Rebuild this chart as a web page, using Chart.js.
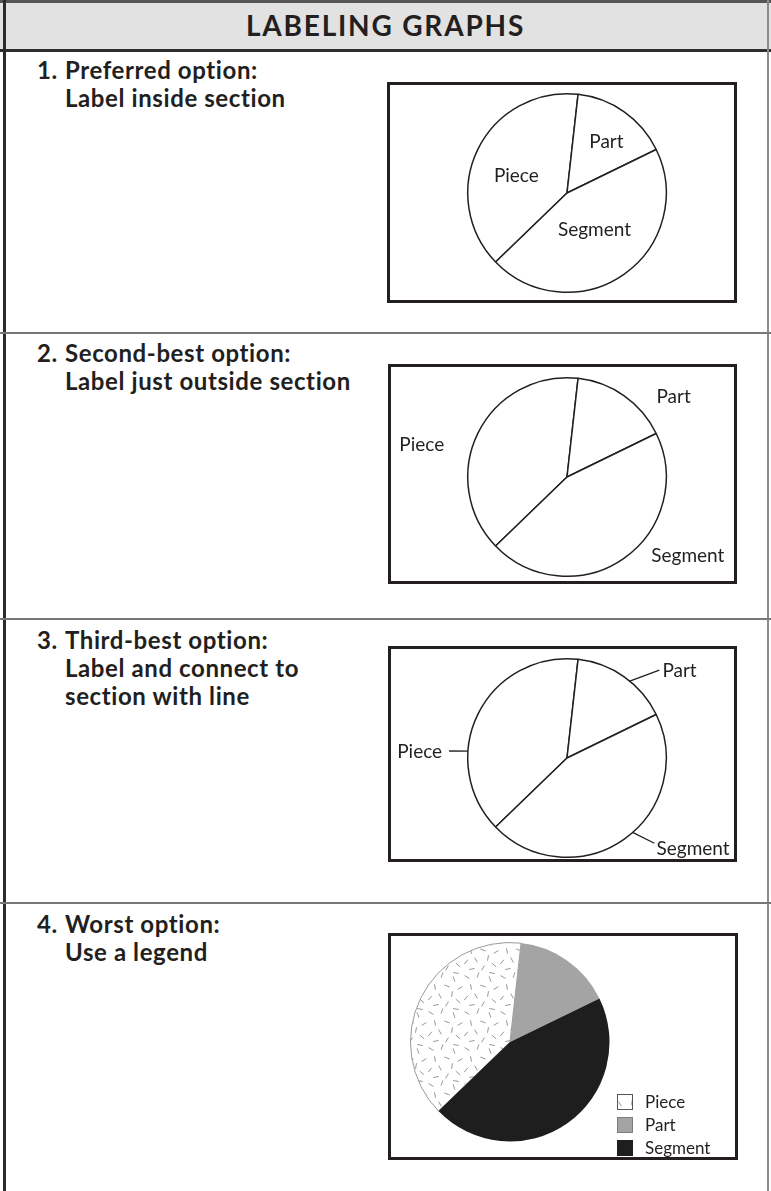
<!DOCTYPE html>
<html lang="en">
<head>
<meta charset="UTF-8" />
<title>Labeling graphs</title>
<script src="https://cdn.jsdelivr.net/npm/chart.js@4.4.1/dist/chart.umd.min.js"></script>
<style>
  body { margin: 0; background: #fff; }
  #page { position: relative; width: 771px; height: 1191px; overflow: hidden; font-family: Lato, "Noto Sans", sans-serif; color: #231f20; }
  .rule { position: absolute; }
  #header { position: absolute; left: 0; top: 0; width: 771px; background: #e2e2e2; border-top: 3px solid #555; border-bottom: 3px solid #2e2e2e; box-sizing: border-box; height: 52px; }
  #title { position: absolute; left: 0; width: 771px; top: 7px; text-align: center; font-weight: 700; font-size: 28px; letter-spacing: 1.8px; line-height: 36px; }
  .hd { position: absolute; left: 65px; font-weight: 700; font-size: 24px; line-height: 28px; letter-spacing: 0.6px; }
  .hd .num { position: absolute; left: -28px; }
  .box { position: absolute; border: 3px solid #231f20; box-sizing: border-box; }
  .box canvas { display: block; }
</style>
</head>
<body>
<div id="page">
  <div id="header"></div>
  <div id="title">LABELING GRAPHS</div>
  <div class="rule" style="left:3px;top:0;width:3px;height:1191px;background:#2b2b2b"></div>
  <div class="rule" style="left:767px;top:0;width:2px;height:1191px;background:#8a8a8a"></div>
  <div class="rule" style="left:0;top:332px;width:771px;height:2px;background:#777"></div>
  <div class="rule" style="left:0;top:618px;width:771px;height:2px;background:#777"></div>
  <div class="rule" style="left:0;top:902px;width:771px;height:2px;background:#777"></div>

  <div class="hd" style="top:56px"><span class="num">1.</span>Preferred option:<br>Label inside section</div>
  <div class="hd" style="top:339px"><span class="num">2.</span>Second-best option:<br>Label just outside section</div>
  <div class="hd" style="top:626px"><span class="num">3.</span>Third-best option:<br>Label and connect to<br>section with line</div>
  <div class="hd" style="top:910px"><span class="num">4.</span>Worst option:<br>Use a legend</div>

  <div class="box" style="left:387px;top:82px;width:350px;height:221px"><canvas id="pie1" width="344" height="215"></canvas></div>
  <div class="box" style="left:388px;top:364px;width:349px;height:220px"><canvas id="pie2" width="343" height="214"></canvas></div>
  <div class="box" style="left:388px;top:646px;width:349px;height:216px"><canvas id="pie3" width="343" height="210"></canvas></div>
  <div class="box" style="left:388px;top:933px;width:350px;height:227px"><canvas id="pie4" width="344" height="221"></canvas></div>
</div>

<script>
  // same three slices in every panel (percent of the circle)
  const categories = ["Piece", "Part", "Segment"];
  const shares = [39, 16, 45];
  const startAngle = 226; // Piece starts at the lower-left spoke

  const ink = "#231f20";

  // polar helper: angle in degrees clockwise from 12 o'clock, dist in radii
  function polar(cx, cy, r, angle, dist) {
    const a = angle * Math.PI / 180;
    return { x: cx + r * dist * Math.sin(a), y: cy - r * dist * Math.cos(a) };
  }

  const sliceLabels = {
    id: "sliceLabels",
    afterDatasetsDraw(chart, args, opts) {
      const arcs = chart.getDatasetMeta(0).data;
      if (!arcs.length) return;
      const { x: cx, y: cy, outerRadius: r } = arcs[0].getProps(["x", "y", "outerRadius"], true);
      const ctx = chart.ctx;
      ctx.save();
      ctx.fillStyle = ink;
      ctx.strokeStyle = ink;
      ctx.textBaseline = "alphabetic";

      if (opts.items) {
        ctx.font = opts.fontSize + "px Lato, 'Noto Sans', sans-serif";
        const capHalf = opts.fontSize * 0.36;
        chart.data.labels.forEach((text, i) => {
          const it = opts.items[i];
          if (it.line) {
            const a = polar(cx, cy, r, it.line[0], it.line[1]);
            const b = polar(cx, cy, r, it.line[2], it.line[3]);
            ctx.lineWidth = 1.3;
            ctx.beginPath();
            ctx.moveTo(a.x, a.y);
            ctx.lineTo(b.x, b.y);
            ctx.stroke();
          }
          const p = polar(cx, cy, r, it.angle, it.dist);
          ctx.textAlign = it.align || "center";
          ctx.fillText(text, p.x, p.y + capHalf);
        });
      }

      if (opts.legend) {
        const lg = opts.legend;
        const items = chart.options.plugins.legend.labels.generateLabels(chart);
        ctx.font = lg.fontSize + "px Lato, 'Noto Sans', sans-serif";
        ctx.textAlign = "left";
        items.forEach((item, i) => {
          const bx = cx + lg.dx;
          const by = cy + lg.dy + i * lg.gap;
          ctx.fillStyle = item.fillStyle;
          ctx.fillRect(bx, by - lg.box / 2, lg.box, lg.box);
          ctx.strokeStyle = lg.boxEdge[i];
          ctx.lineWidth = 1;
          ctx.strokeRect(bx + 0.5, by - lg.box / 2 + 0.5, lg.box - 1, lg.box - 1);
          ctx.fillStyle = ink;
          ctx.fillText(item.text, bx + lg.box + lg.textGap, by + lg.fontSize * 0.36);
        });
      }
      ctx.restore();
    }
  };

  // speckled white fill for "Piece" in the legend panel
  function speckle(canvas) {
    const tile = document.createElement("canvas");
    tile.width = 36;
    tile.height = 36;
    const g = tile.getContext("2d");
    g.fillStyle = "#fff";
    g.fillRect(0, 0, 36, 36);
    g.strokeStyle = "#8c8c8c";
    g.lineWidth = 0.9;
    const dashes = [[4, 5, 30], [15, 3, 110], [27, 7, 70], [33, 16, 150], [8, 15, 80], [20, 14, 20],
      [3, 26, 130], [13, 24, 60], [25, 22, 100], [31, 29, 40], [9, 33, 170], [20, 32, 120], [29, 1, 10]];
    dashes.forEach(([x, y, a]) => {
      const dx = 2.8 * Math.cos(a * Math.PI / 180);
      const dy = 2.8 * Math.sin(a * Math.PI / 180);
      g.beginPath();
      g.moveTo(x - dx, y - dy);
      g.lineTo(x + dx, y + dy);
      g.stroke();
    });
    return canvas.getContext("2d").createPattern(tile, "repeat");
  }

  // put the 200px pie square so its centre lands at (cx, cy) inside the canvas
  function padFor(canvas, cx, cy) {
    return { left: cx - 100, top: cy - 100, right: canvas.width - cx - 100, bottom: canvas.height - cy - 100 };
  }

  function makePie(id, center, dataset, labelOpts) {
    const canvas = document.getElementById(id);
    return new Chart(canvas.getContext("2d"), {
      type: "pie",
      data: {
        labels: categories,
        datasets: [Object.assign({ data: shares, hoverOffset: 0, clip: false }, dataset(canvas))]
      },
      options: {
        responsive: false,
        animation: false,
        events: [],
        rotation: startAngle,
        layout: { padding: padFor(canvas, center[0], center[1]) },
        plugins: {
          legend: { display: false },
          tooltip: { enabled: false },
          sliceLabels: labelOpts
        }
      },
      plugins: [sliceLabels]
    });
  }

  const outline = () => ({ backgroundColor: "#fff", borderColor: ink, borderWidth: 1.5 });

  // 1. labels inside
  makePie("pie1", [177, 108], outline, {
    fontSize: 19,
    items: [
      { angle: 289, dist: 0.54 },
      { angle: 37, dist: 0.66 },
      { angle: 143, dist: 0.46 }
    ]
  });

  // 2. labels just outside
  makePie("pie2", [176, 110], outline, {
    fontSize: 19,
    items: [
      { angle: 282.7, dist: 1.50 },
      { angle: 52.7, dist: 1.35 },
      { angle: 122.9, dist: 1.45 }
    ]
  });

  // 3. labels with leader lines
  makePie("pie3", [176, 109], outline, {
    fontSize: 19,
    items: [
      { angle: 273, dist: 1.26, align: "right", line: [274, 1.0, 273.4, 1.19] },
      { angle: 47.2, dist: 1.31, align: "left", line: [39.2, 1.0, 46.4, 1.285] },
      { angle: 135.2, dist: 1.28, align: "left", line: [138.6, 1.0, 134.3, 1.23] }
    ]
  });

  // 4. legend
  makePie("pie4", [119, 106], canvas => ({
    backgroundColor: [speckle(canvas), "#a4a4a4", "#1e1e1e"],
    borderColor: ["#9a9a9a", "#a4a4a4", "#1e1e1e"],
    borderWidth: [1, 0, 0]
  }), {
    legend: { dx: 107, dy: 60, gap: 23, box: 16, textGap: 12, fontSize: 17, boxEdge: ["#555", "#7d7d7d", "#1e1e1e"] }
  });
</script>
</body>
</html>
